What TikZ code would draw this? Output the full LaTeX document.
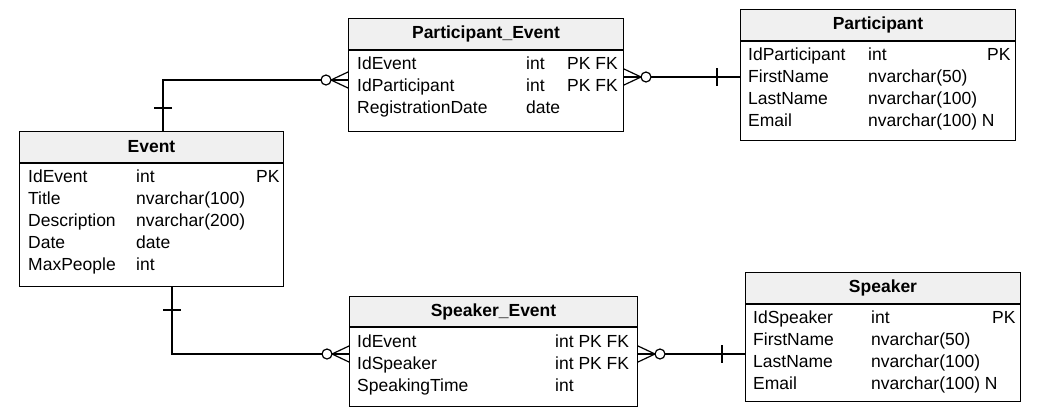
\documentclass[tikz,border=0pt]{standalone}
\usepackage{fontspec}
\setmainfont{Liberation Sans}
\usepackage{xcolor}
\usepackage{tikz}
\usetikzlibrary{positioning}

\definecolor{headgray}{RGB}{240,240,240}

\begin{document}
\begin{tikzpicture}[x=1pt, y=-1pt, font=\fontsize{17.5}{22}\selectfont]
      % Styles
      \tikzset{
        tabhead/.style={draw, line width=1pt, fill=headgray, anchor=north west, inner sep=0pt, minimum height=31pt, font=\fontsize{17.5}{22}\selectfont\bfseries},
        tabbody/.style={draw, line width=1pt, fill=white, inner sep=0pt, below=0pt of #1},
        rows/.style={inner sep=0pt, align=left},
        link/.style={line width=1.2pt},
        zeromany/.pic={
          \draw[link] (-17,0) -- (0,-8) (-17,0) -- (0,0) (-17,0) -- (0,8);
          \draw[link, fill=white] (-22,0) circle[radius=5pt];
        },
        onemark/.pic={\draw[link] (-23,-9) -- (-23,9);}
      }
      \useasboundingbox (0,0) rectangle (1038,415);

      % Tables
      \node[tabhead, minimum width=264pt] (event) at (19,131) {Event};
      \node[tabbody=event, minimum width=264pt, minimum height=123pt] (event-b) {};
      \node[rows, below right=3.5pt and 9pt of event-b.north west] (event-r) {%
        \begin{tabular}{@{}p{108pt}@{}p{120pt}@{}r@{}}
          IdEvent & int & PK\\
          Title & nvarchar(100) & \\
          Description & nvarchar(200) & \\
          Date & date & \\
          MaxPeople & int &
        \end{tabular}};

      \node[tabhead, minimum width=275pt] (pe) at (348,18) {Participant\_Event};
      \node[tabbody=pe, minimum width=275pt, minimum height=81pt] (pe-b) {};
      \node[rows, below right=3.5pt and 9pt of pe-b.north west] (pe-r) {%
        \begin{tabular}{@{}p{169pt}@{}p{41pt}@{}l@{}}
          IdEvent & int & PK FK\\
          IdParticipant & int & PK FK\\
          RegistrationDate & date &
        \end{tabular}};

      \node[tabhead, minimum width=275pt] (part) at (740,9) {Participant};
      \node[tabbody=part, minimum width=275pt, minimum height=99pt] (part-b) {};
      \node[rows, below right=3.5pt and 8pt of part-b.north west] (part-r) {%
        \begin{tabular}{@{}p{120pt}@{}p{119pt}@{}r@{}}
          IdParticipant & int & PK\\
          FirstName & nvarchar(50) & \\
          LastName & nvarchar(100) & \\
          Email & \multicolumn{2}{@{}l@{}}{nvarchar(100) N}
        \end{tabular}};

      \node[tabhead, minimum width=288pt, minimum height=30pt] (se) at (349,296) {Speaker\_Event};
      \node[tabbody=se, minimum width=288pt, minimum height=79pt] (se-b) {};
      \node[rows, below right=4.5pt and 8pt of se-b.north west] (se-r) {%
        \begin{tabular}{@{}p{198pt}@{}l@{}}
          IdEvent & int PK FK\\
          IdSpeaker & int PK FK\\
          SpeakingTime & int
        \end{tabular}};

      \node[tabhead, minimum width=275pt] (spk) at (745,272) {Speaker};
      \node[tabbody=spk, minimum width=275pt, minimum height=97pt] (spk-b) {};
      \node[rows, below right=3.5pt and 8pt of spk-b.north west] (spk-r) {%
        \begin{tabular}{@{}p{118pt}@{}p{121pt}@{}r@{}}
          IdSpeaker & int & PK\\
          FirstName & nvarchar(50) & \\
          LastName & nvarchar(100) & \\
          Email & \multicolumn{2}{@{}l@{}}{nvarchar(100) N}
        \end{tabular}};

      % Link ends
      \coordinate (ev-top) at ([xshift=144pt]event.north west);
      \coordinate (ev-bot) at ([xshift=153pt]event-b.south west);
      \coordinate (pe-in) at ([yshift=-30pt]pe-b.north west);
      \coordinate (pe-out) at ([yshift=-27pt]pe-b.north east);
      \coordinate (se-in) at ([yshift=-27pt]se-b.north west);
      \coordinate (se-out) at ([yshift=-27pt]se-b.north east);

      % Links
      \draw[link] (ev-top) |- (pe-in);
      \draw[link] (pe-out) -- (part-b.west |- pe-out);
      \draw[link] (ev-bot) |- (se-in);
      \draw[link] (se-out) -- (spk-b.west |- se-out);

      % Ends
      \pic[rotate=-90] at (ev-top) {onemark};
      \pic at (pe-in) {zeromany};
      \pic[xscale=-1] at (pe-out) {zeromany};
      \pic at (part-b.west |- pe-out) {onemark};
      \pic[rotate=90] at (ev-bot) {onemark};
      \pic at (se-in) {zeromany};
      \pic[xscale=-1] at (se-out) {zeromany};
      \pic at (spk-b.west |- se-out) {onemark};
    \end{tikzpicture}
\end{document}
